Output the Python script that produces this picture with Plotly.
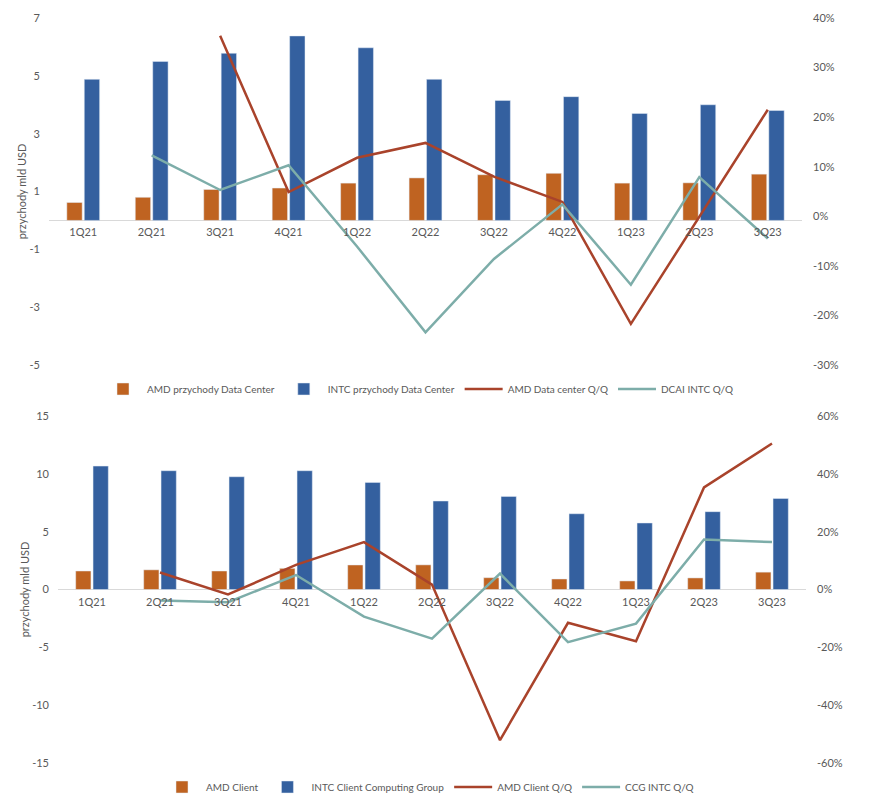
import plotly.graph_objects as go

quarters = ["1Q21", "2Q21", "3Q21", "4Q21", "1Q22", "2Q22", "3Q22", "4Q22", "1Q23", "2Q23", "3Q23"]

# Top chart: Data Center (bn USD) and Q/Q changes
amd_dc = [0.62, 0.80, 1.07, 1.12, 1.29, 1.47, 1.58, 1.63, 1.29, 1.30, 1.60]
intc_dc = [4.88, 5.50, 5.78, 6.38, 5.97, 4.88, 4.15, 4.28, 3.70, 4.00, 3.80]
amd_dc_qq = [None, None, 0.364, 0.049, 0.118, 0.148, 0.080, 0.029, -0.217, 0.0, 0.215]
dcai_intc_qq = [None, 0.123, 0.053, 0.103, -0.061, -0.234, -0.086, 0.024, -0.138, 0.079, -0.045]

# Bottom chart: Client (bn USD) and Q/Q changes
amd_client = [1.60, 1.70, 1.60, 1.83, 2.12, 2.13, 1.02, 0.91, 0.74, 1.00, 1.50]
intc_ccg = [10.67, 10.27, 9.75, 10.27, 9.26, 7.65, 8.05, 6.55, 5.75, 6.73, 7.87]
amd_client_qq = [None, 0.059, -0.017, 0.085, 0.164, 0.017, -0.521, -0.115, -0.179, 0.353, 0.505]
ccg_intc_qq = [None, -0.038, -0.044, 0.050, -0.094, -0.170, 0.055, -0.182, -0.118, 0.173, 0.164]

# Axis tick values
top_left_ticks = [-5, -3, -1, 1, 3, 5, 7]
top_right_ticks = [-0.3, -0.2, -0.1, 0.0, 0.1, 0.2, 0.3, 0.4]
bot_left_ticks = [-15, -10, -5, 0, 5, 10, 15]
bot_right_ticks = [-0.6, -0.4, -0.2, 0.0, 0.2, 0.4, 0.6]

ORANGE = "#BF6321"
BLUE = "#34609F"
RED = "#A9432B"
TEAL = "#7DADA9"
TXT = "#595959"
AXL = "#D9D9D9"
FONT = "Lato"

W, H = 881, 803
OFF = 8  # page body margin


def px_x(a, b):
    return [(a - OFF) / W, (b - OFF) / W]


def px_y(top, bottom):
    return [1 - (bottom - OFF) / H, 1 - (top - OFF) / H]


def num_text(v):
    return f"{v:g}"


def pct_text(v):
    return f"{round(v * 100):d}%"


top_xd = px_x(49, 802)
bot_xd = px_x(58, 806)
top_yd = px_y(18, 365)
bot_yd = px_y(416, 763)

top_range = [-5, 7]
bot_range = [-15, 15]
top_zero = top_yd[0] + (0 - top_range[0]) / (top_range[1] - top_range[0]) * (top_yd[1] - top_yd[0])
bot_zero = bot_yd[0] + (0 - bot_range[0]) / (bot_range[1] - bot_range[0]) * (bot_yd[1] - bot_yd[0])

fig = go.Figure()

fig.add_trace(go.Bar(x=quarters, y=amd_dc, name="AMD przychody Data Center", marker_color=ORANGE,
                     xaxis="x", yaxis="y", legend="legend", offsetgroup="a"))
fig.add_trace(go.Bar(x=quarters, y=intc_dc, name="INTC przychody Data Center", marker_color=BLUE,
                     xaxis="x", yaxis="y", legend="legend", offsetgroup="b"))
fig.add_trace(go.Scatter(x=quarters, y=amd_dc_qq, name="AMD Data center Q/Q", mode="lines",
                         line=dict(color=RED, width=2.5), xaxis="x", yaxis="y3", legend="legend"))
fig.add_trace(go.Scatter(x=quarters, y=dcai_intc_qq, name="DCAI INTC Q/Q", mode="lines",
                         line=dict(color=TEAL, width=2.5), xaxis="x", yaxis="y3", legend="legend"))

fig.add_trace(go.Bar(x=quarters, y=amd_client, name="AMD Client", marker_color=ORANGE,
                     xaxis="x2", yaxis="y2", legend="legend2", offsetgroup="a"))
fig.add_trace(go.Bar(x=quarters, y=intc_ccg, name="INTC Client Computing Group", marker_color=BLUE,
                     xaxis="x2", yaxis="y2", legend="legend2", offsetgroup="b"))
fig.add_trace(go.Scatter(x=quarters, y=amd_client_qq, name="AMD Client Q/Q", mode="lines",
                         line=dict(color=RED, width=2.5), xaxis="x2", yaxis="y4", legend="legend2"))
fig.add_trace(go.Scatter(x=quarters, y=ccg_intc_qq, name="CCG INTC Q/Q", mode="lines",
                         line=dict(color=TEAL, width=2.5), xaxis="x2", yaxis="y4", legend="legend2"))

tickfont = dict(family=FONT, size=11, color=TXT)

xcommon = dict(type="category", showgrid=False, zeroline=False, showline=False, ticks="",
               tickfont=tickfont, ticklabelstandoff=4, fixedrange=True, automargin=False)
ycommon = dict(showgrid=False, showline=False, ticks="", tickfont=tickfont, automargin=False,
               tickmode="array")

legfont = dict(family=FONT, size=10, color=TXT)
titlefont = dict(family=FONT, size=11, color=TXT)

fig.update_layout(
    width=W, height=H,
    margin=dict(l=0, r=0, t=0, b=0, autoexpand=False),
    paper_bgcolor="white", plot_bgcolor="white",
    barmode="group", bargap=0.49, bargroupgap=0.12,
    font=dict(family=FONT, size=11, color=TXT),
    xaxis=dict(domain=top_xd, anchor="free", position=top_zero, **xcommon),
    xaxis2=dict(domain=bot_xd, anchor="free", position=bot_zero, **xcommon),
    yaxis=dict(domain=top_yd, anchor="x", range=top_range,
               tickvals=top_left_ticks, ticktext=[num_text(v) for v in top_left_ticks],
               zeroline=True, zerolinecolor=AXL, zerolinewidth=1,
               title=dict(text="przychody mld USD", font=titlefont, standoff=0),
               ticklabelstandoff=8, **ycommon),
    yaxis2=dict(domain=bot_yd, anchor="x2", range=bot_range,
                tickvals=bot_left_ticks, ticktext=[num_text(v) for v in bot_left_ticks],
                zeroline=True, zerolinecolor=AXL, zerolinewidth=1,
                title=dict(text="przychody mld USD", font=titlefont, standoff=0),
                ticklabelstandoff=8, **ycommon),
    yaxis3=dict(overlaying="y", side="right", anchor="x", range=[-0.3, 0.4],
                tickvals=top_right_ticks, ticktext=[pct_text(v) for v in top_right_ticks],
                zeroline=False, ticklabelstandoff=10, **ycommon),
    yaxis4=dict(overlaying="y2", side="right", anchor="x2", range=[-0.6, 0.6],
                tickvals=bot_right_ticks, ticktext=[pct_text(v) for v in bot_right_ticks],
                zeroline=False, ticklabelstandoff=10, **ycommon),
    legend=dict(orientation="h", x=(99 - OFF) / W, xanchor="left", y=1 - (389 - OFF) / H, yanchor="middle",
                font=legfont, itemwidth=38, traceorder="normal", bgcolor="rgba(0,0,0,0)"),
    legend2=dict(orientation="h", x=(158 - OFF) / W, xanchor="left", y=1 - (787 - OFF) / H, yanchor="middle",
                 font=legfont, itemwidth=38, traceorder="normal", bgcolor="rgba(0,0,0,0)"),
)

fig.write_html("out.html")
